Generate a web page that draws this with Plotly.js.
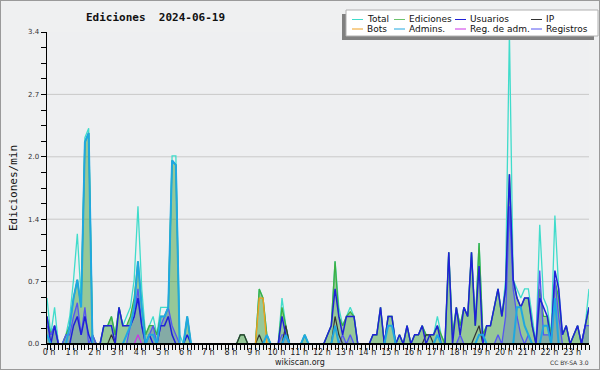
<!DOCTYPE html>
<html><head><meta charset="utf-8">
<script src="https://cdn.plot.ly/plotly-3.0.1.min.js"></script>
<style>
html,body{margin:0;padding:0;background:#fff;}
#wrap{width:598px;height:368px;border:1px solid #9a9a9a;}
</style></head>
<body><div id="wrap"><div id="chart" style="width:598px;height:368px"></div></div>
<script>
// ---- data (10-minute steps, edits per minute) ----
const hourTicks = [0,1,2,3,4,5,6,7,8,9,10,11,12,13,14,15,16,17,18,19,20,21,22,23];
const hourLabels = ["0 h","1 h","2 h","3 h","4 h","5 h","6 h","7 h","8 h","9 h","10 h","11 h","12 h","13 h","14 h","15 h","16 h","17 h","18 h","19 h","20 h","21 h","22 h","23 h"];
const yTickVals = [0,0.68,1.36,2.04,2.72,3.4];
const yTickText = ["0.0","0.7","1.4","2.0","2.7","3.4"];
const gridVals = [0.68,1.36,2.04,2.72];

const seriesNames = ["Total","Ediciones","Usuarios","IP","Bots","Admins.","Reg. de adm.","Registros"];
const seriesColors = ["#40dccb","#6cc36c","#2020d8","#333333","#f0a020","#20a8e0","#cc33e6","#5555f2"];

const total = [
0.5,0.1,0.4,0,0,0.1,
0.3,0.7,1.2,0.5,2.25,2.35,
0.1,0,0,0.2,0.2,0.3,
0.1,0.4,0.2,0.3,0.4,0.7,
1.5,0.6,0.1,0.2,0.3,0.1,
0.4,0.4,0.4,2.05,2.05,0.1,
0,0.3,0,0,0,0,
0,0,0,0,0,0,
0,0,0,0.1,0.1,0,
0,0,0.6,0.5,0.1,0,
0,0,0.5,0.2,0,0,
0,0,0.1,0,0,0,
0,0,0.1,0.2,0.9,0.4,
0.2,0.3,0.4,0.3,0,0,
0,0,0.1,0.1,0.4,0,
0.3,0.3,0,0.1,0,0.2,
0,0.1,0.1,0.2,0.1,0.1,
0.1,0.3,0.1,0,1.0,0.1,
0.4,0.2,0.4,0.3,1.0,0.2,
1.1,0.1,0.2,0.2,0.4,0.6,
0.3,0.7,3.4,0.7,0.6,0.5,
0.6,0.6,0.3,0,1.3,0.5,
0.4,0.1,1.4,0.6,0.1,0.2,
0,0.1,0.2,0,0.2,0.6];

const ediciones = [
0.3,0.1,0.2,0,0,0.1,
0.2,0.5,0.7,0.4,2.2,2.3,
0.1,0,0,0.2,0.2,0.3,
0.1,0.4,0.2,0.2,0.3,0.5,
0.9,0.4,0.1,0.2,0.2,0.1,
0.3,0.3,0.4,2.0,1.95,0,
0,0.3,0,0,0,0,
0,0,0,0,0,0,
0,0,0,0.1,0.1,0,
0,0,0.6,0.5,0.1,0,
0,0,0.4,0.2,0,0,
0,0,0.1,0,0,0,
0,0,0.1,0.2,0.9,0.3,
0.2,0.3,0.35,0.3,0,0,
0,0,0.1,0.1,0.4,0,
0.3,0.3,0,0.1,0,0.2,
0,0.1,0.1,0.2,0.1,0.1,
0.1,0.2,0.1,0,1.0,0.1,
0.4,0.2,0.4,0.3,1.0,0.2,
1.1,0.1,0.2,0.2,0.4,0.6,
0.3,0.6,1.85,0.7,0.5,0.4,
0.5,0.5,0.2,0,0.6,0.3,
0.3,0.1,0.7,0.5,0.1,0.2,
0,0.1,0.2,0,0.2,0.4];

const usuarios = [
0.3,0,0.2,0,0,0,
0,0.2,0.3,0.1,0.3,0.1,
0,0,0,0.2,0.2,0.2,
0,0.4,0.2,0.2,0.2,0.3,
0.5,0.2,0,0.1,0,0,
0.2,0.2,0.3,0.1,0,0,
0,0.1,0,0,0,0,
0,0,0,0,0,0,
0,0,0,0,0,0,
0,0,0,0,0,0,
0,0,0.3,0.1,0,0,
0,0,0,0,0,0,
0,0,0.1,0.2,0.6,0.3,
0.1,0.3,0.3,0.3,0,0,
0,0,0.1,0.1,0.4,0,
0.3,0.3,0,0.1,0,0.2,
0,0.1,0.1,0.2,0,0.1,
0.1,0.2,0,0,1.0,0,
0.4,0.1,0.4,0.3,1.0,0.2,
0.85,0,0.2,0.2,0.4,0.6,
0.3,0.6,1.85,0.7,0.5,0.4,
0.5,0.5,0.2,0,0.5,0.4,
0.3,0,0.8,0.6,0.1,0.2,
0,0.1,0.2,0,0.2,0.4];

const ip = [
0,0,0,0,0,0,
0,0,0,0,0,0,
0,0,0,0,0,0.1,
0,0,0,0,0,0,
0,0,0,0,0,0,
0,0,0,0,0,0,
0,0,0,0,0,0,
0,0,0,0,0,0,
0,0,0,0.1,0.1,0,
0,0,0.1,0,0,0,
0,0,0,0.2,0,0,
0,0,0,0,0,0,
0,0,0,0,0.3,0.1,
0,0,0,0,0,0,
0,0,0,0,0,0,
0,0,0,0,0,0,
0,0,0,0,0.1,0.1,
0,0,0,0,0,0,
0,0,0,0,0,0.1,
0.2,0,0,0,0,0,
0,0,0,0,0,0,
0,0,0,0,0,0,
0,0,0,0,0,0,
0,0,0,0,0,0];

const bots = [
0,0,0,0,0,0, 0,0,0,0,0,0, 0,0,0,0,0,0, 0,0,0,0,0,0,
0,0,0,0,0,0, 0,0,0,0,0,0, 0,0,0,0,0,0, 0,0,0,0,0,0,
0,0,0,0,0,0, 0,0,0.5,0.5,0,0, 0,0,0,0,0,0, 0,0,0,0,0,0,
0,0,0,0,0,0, 0,0,0,0,0,0, 0,0,0,0,0,0, 0,0,0,0,0,0,
0,0,0,0,0,0, 0,0,0,0,0,0, 0,0,0,0,0,0, 0,0,0,0,0,0,
0,0,0,0,0,0, 0,0,0,0,0,0, 0,0,0,0,0,0, 0,0,0,0,0,0];

const admins = [
0.1,0,0,0,0,0,
0.2,0.5,0.7,0.4,2.2,2.3,
0,0,0,0,0,0,
0,0,0,0.1,0.2,0.4,
0.9,0.4,0,0.1,0.1,0,
0.3,0.3,0.4,2.0,1.95,0,
0,0.3,0,0,0,0,
0,0,0,0,0,0,
0,0,0,0,0,0,
0,0,0,0,0.1,0,
0,0,0,0.1,0,0,
0,0,0.1,0,0,0,
0,0,0,0,0.2,0,
0,0,0,0,0,0,
0,0,0,0,0,0,
0.2,0.2,0,0,0,0,
0,0,0,0,0,0,
0,0.1,0,0,0,0,
0,0,0,0,0,0,
0.1,0.1,0,0,0,0,
0,0,0,0,0.4,0.4,
0.2,0.1,0,0,0,0.2,
0.2,0,0.5,0,0,0,
0,0,0,0,0,0];

const regAdm = [
0,0,0,0,0,0, 0,0,0,0,0,0, 0,0,0,0,0,0, 0,0,0,0,0,0,
0.1,0,0,0,0,0, 0,0,0,0,0,0, 0,0,0,0,0,0, 0,0,0,0,0,0,
0,0,0,0,0,0, 0,0,0,0,0,0, 0,0,0,0,0,0, 0,0,0,0,0,0,
0,0,0,0,0,0, 0,0,0,0,0,0, 0,0,0,0,0,0, 0,0,0,0,0,0,
0,0,0,0,0,0, 0,0,0,0,0,0, 0,0,0,0,0,0, 0,0,0,0,0,0,
0,0,0,0,0,0, 0,0,0,0,0,0, 0,0,0,0,0,0, 0,0,0,0,0,0];

const registros = [
0.2,0.1,0.2,0,0,0.1,
0.1,0.3,0.45,0.1,0.4,0,
0.1,0,0,0,0,0,
0,0,0,0,0.2,0.3,
0.6,0.2,0,0.1,0.2,0,
0.2,0.3,0.4,0.2,0.1,0,
0,0,0,0,0,0,
0,0,0,0,0,0,
0,0,0,0,0,0,
0,0,0,0,0,0,
0,0,0.1,0.1,0,0,
0,0,0,0,0,0,
0,0,0,0,0,0,
0.1,0,0.1,0,0,0,
0,0,0,0,0,0,
0,0,0,0,0,0,
0,0,0,0,0,0,
0,0,0,0,0,0,
0,0.1,0,0,0,0,
0,0,0,0,0,0.1,
0,0.3,1.5,0.6,0.3,0.1,
0,0.1,0,0,0.8,0.1,
0.1,0.1,0.7,0.3,0,0,
0,0,0,0,0.2,0.2];

// ---- geometry ----
const W = 598, H = 368, L = 46, R = 10, T = 31, B = 25;
const PW = W - L - R, PH = H - T - B;
const px = ix => (ix - 1 - L) / PW;      // image x -> paper x
const py = iy => (H - B - (iy - 1)) / PH; // image y -> paper y

const times = total.map((_, i) => i / 6);

function line(y, k, width, extra) {
  return Object.assign({
    x: times, y: y, type: 'scatter', mode: 'lines', name: seriesNames[k],
    line: {color: seriesColors[k], width: width}, hoverinfo: 'skip', showlegend: false
  }, extra || {});
}

const traces = [
  line(total, 0, 1.3),
  line(ediciones, 1, 1.3, {fill: 'tozeroy', fillcolor: 'rgba(60,160,60,0.49)', line: {color: '#3cb043', width: 1.3}}),
  line(registros, 7, 1.3, {fill: 'tozeroy', fillcolor: 'rgba(70,70,220,0.22)'}),
  line(ip, 3, 1.2),
  line(bots, 4, 1.4),
  line(regAdm, 6, 1.2),
  line(usuarios, 2, 1.5),
  line(admins, 5, 2)
];

// ---- legend (drawn from names/colours) ----
const colTextX = [366, 408, 469, 545];
const rowY = [19.5, 29];
const shapes = [];
const annotations = [];
gridVals.forEach(v => shapes.push({type: 'line', xref: 'paper', yref: 'y', x0: 0, x1: 1, y0: v, y1: v,
  line: {color: '#c9c9c9', width: 1}, layer: 'below'}));
// baseline drawn over the traces, like the axis of the original
shapes.push({type: 'line', xref: 'paper', yref: 'y', x0: 0, x1: 1, y0: 0, y1: 0,
  line: {color: '#000', width: 2}, layer: 'above'});
shapes.push({type: 'rect', xref: 'paper', yref: 'paper', x0: px(342), x1: px(594), y0: py(40), y1: py(14),
  fillcolor: '#808080', line: {width: 0}});
shapes.push({type: 'rect', xref: 'paper', yref: 'paper', x0: px(346), x1: px(598), y0: py(36), y1: py(10),
  fillcolor: '#ffffff', line: {color: '#b0b0b0', width: 1}});
seriesNames.forEach((n, k) => {
  const c = k % 4, r = Math.floor(k / 4);
  const tx = colTextX[c], ty = rowY[r];
  shapes.push({type: 'line', xref: 'paper', yref: 'paper', x0: px(tx - 14), x1: px(tx - 3), y0: py(ty), y1: py(ty),
    line: {color: seriesColors[k], width: 1}});
  annotations.push({xref: 'paper', yref: 'paper', x: px(tx - 1), y: py(ty), xanchor: 'left', yanchor: 'middle',
    text: n, showarrow: false, font: {family: 'DejaVu Sans', size: 9, color: '#111'}});
});
annotations.push({xref: 'paper', yref: 'paper', x: px(300), y: py(362), xanchor: 'center', yanchor: 'middle',
  text: 'wikiscan.org', showarrow: false, font: {family: 'DejaVu Sans', size: 8, color: '#222'}});
annotations.push({xref: 'paper', yref: 'paper', x: px(591), y: py(362), xanchor: 'right', yanchor: 'middle',
  text: 'CC BY-SA 3.0', showarrow: false, font: {family: 'DejaVu Sans', size: 6, color: '#333'}});

const layout = {
  width: W, height: H,
  margin: {l: L, r: R, t: T, b: B},
  paper_bgcolor: '#eff0f1', plot_bgcolor: '#eeeff1',
  font: {family: 'DejaVu Sans', color: '#222'},
  showlegend: false,
  title: {text: '<b>Ediciones\u00a0 2024-06-19</b>', xref: 'container', yref: 'container',
    x: 85 / W, xanchor: 'left', y: 1 - 16 / H, yanchor: 'middle',
    font: {family: 'DejaVu Sans Mono', size: 11, color: '#111'}},
  xaxis: {
    range: [0, 143 / 6], showgrid: false, zeroline: false,
    showline: true, linecolor: '#000', linewidth: 1,
    tickmode: 'array', tickvals: hourTicks, ticktext: hourLabels,
    ticks: 'outside', ticklen: 5, tickwidth: 1, tickcolor: '#000',
    minor: {tickmode: 'linear', tick0: 0, dtick: 1 / 6, ticks: 'outside', ticklen: 5, tickwidth: 1, tickcolor: '#000', showgrid: false},
    tickfont: {family: 'DejaVu Sans', size: 8, color: '#222'}, ticklabelshift: 2, ticklabelstandoff: -5
  },
  yaxis: {
    range: [0, 3.4], showgrid: false, zeroline: false,
    showline: true, linecolor: '#000', linewidth: 1.5,
    tickmode: 'array', tickvals: yTickVals, ticktext: yTickText,
    ticks: 'outside', ticklen: 5, tickwidth: 1, tickcolor: '#000',
    minor: {tickmode: 'linear', tick0: 0, dtick: 0.17, ticks: 'outside', ticklen: 5, tickwidth: 1, tickcolor: '#000', showgrid: false},
    tickfont: {family: 'DejaVu Sans', size: 7, color: '#333'},
    title: {text: 'Ediciones/min', standoff: 8, font: {family: 'DejaVu Sans Mono', size: 11, color: '#111'}}
  },
  shapes: shapes,
  annotations: annotations
};

Plotly.newPlot('chart', traces, layout, {staticPlot: true, displayModeBar: false});
</script>
</body></html>
